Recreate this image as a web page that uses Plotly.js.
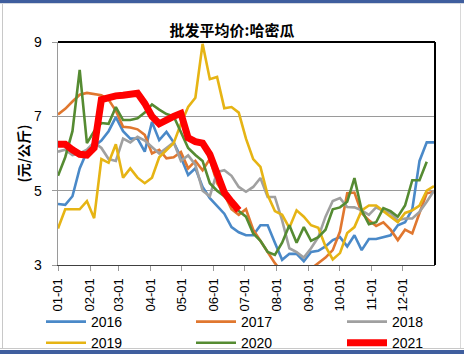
<!DOCTYPE html>
<html>
<head>
<meta charset="utf-8">
<script src="https://cdn.plot.ly/plotly-3.0.1.min.js"></script>
<style>
  html, body { margin: 0; padding: 0; background: #fff; }
  #wrap { position: relative; width: 464px; height: 354px; overflow: hidden; }
  #chart { position: absolute; left: 0; top: 0; width: 464px; height: 354px; }
  .fr { position: absolute; pointer-events: none; }
</style>
</head>
<body>
<div id="wrap">
  <div id="chart"></div>
  <div class="fr" style="left:0;top:0;width:464px;height:3px;background:#3f5e9e;"></div>
  <div class="fr" style="left:0;top:3px;width:464px;height:1px;background:#d4d8e0;"></div>
  <div class="fr" style="left:2px;top:4px;width:1px;height:345px;background:#c8c8c8;"></div>
  <div class="fr" style="left:460px;top:4px;width:1px;height:345px;background:#d8d8d8;"></div>
  <div class="fr" style="left:0;top:348px;width:464px;height:1px;background:#c8c8c8;"></div>
  <div class="fr" style="left:0;top:350px;width:464px;height:4px;background:#3f5e9e;"></div>
</div>
<script>
// weekly observations; week index i -> day of year 7*i
const monthTickDays = [0, 31, 59, 90, 120, 151, 181, 212, 243, 273, 304, 334];
const monthTickLabels = ["01-01","02-01","03-01","04-01","05-01","06-01","07-01","08-01","09-01","10-01","11-01","12-01"];

const s2016 = [4.64,4.62,4.85,5.6,6.05,6.2,6.35,6.6,6.98,6.6,6.4,6.4,6.05,6.85,6.36,6.58,6.3,5.9,5.42,5.6,5.1,4.8,4.6,4.38,4.02,3.88,3.8,3.8,4.07,4.07,3.6,3.14,3.3,3.3,3.1,3.35,3.38,3.5,3.67,3.75,3.5,3.8,3.4,3.7,3.7,3.75,3.8,4.07,4.15,4.5,5.8,6.3,6.3];
const s2017 = [7.05,7.2,7.4,7.58,7.63,7.6,7.57,7.45,7.15,6.72,6.7,6.65,6.5,6.0,6.1,5.87,5.9,6.04,5.6,5.8,5.55,5.85,5.2,4.9,4.5,4.35,4.5,3.95,3.65,3.35,3.05,2.8,2.6,2.6,2.7,2.9,3.05,3.2,3.4,3.9,4.93,4.95,4.4,4.2,4.05,4.15,3.95,3.67,3.95,3.85,4.4,4.93,4.97];
const s2018 = [6.05,6.1,5.96,6.0,6.1,6.3,6.15,5.85,5.8,6.4,6.3,6.45,6.35,6.18,6.0,6.15,6.3,5.8,5.95,5.7,5.0,4.85,5.5,5.55,5.4,5.1,4.97,5.1,5.34,4.83,4.83,4.2,3.45,3.35,3.2,3.45,3.75,4.3,4.72,4.8,4.56,4.55,4.47,4.35,4.55,4.45,4.4,4.2,4.25,4.25,4.43,4.7,5.0];
const s2019 = [3.98,4.5,4.5,4.5,4.72,4.26,5.85,5.75,6.25,5.35,5.6,5.35,5.2,5.35,5.9,6.1,6.28,6.8,7.25,7.5,8.95,8.0,8.06,7.22,7.25,7.1,6.4,5.85,5.64,4.88,4.45,4.35,4.0,4.47,4.3,4.07,4.0,3.5,3.15,3.32,3.86,4.02,4.47,4.6,4.6,4.45,4.3,4.15,4.4,4.47,4.6,5.0,5.12];
const s2020 = [5.4,5.9,6.6,8.25,6.28,6.6,6.82,6.8,7.25,6.9,6.9,6.95,7.1,7.32,7.18,7.06,7.0,6.55,6.15,5.96,5.8,5.2,5.0,4.85,4.65,4.45,4.3,3.85,3.65,3.35,3.27,3.6,4.07,3.6,4.02,3.65,3.75,3.95,4.5,4.55,4.7,5.34,4.47,4.1,4.15,4.53,4.45,4.3,4.6,5.28,5.28,5.78];
const s2021 = [6.25,6.25,6.1,5.98,5.96,6.15,7.45,7.52,7.55,7.57,7.6,7.62,7.35,7.0,6.8,6.92,7.0,7.08,6.42,6.32,6.28,5.98,5.4,4.95,4.7,4.47];

const seriesNames = ["2016","2017","2018","2019","2020","2021"];
const seriesData = [s2016, s2017, s2018, s2019, s2020, s2021];
const colors = ["#4a89c8","#e0772f","#a0a0a0","#e6b414","#558b32","#ff0000"];
const widths = [2.6,2.6,2.6,2.6,2.6,7];
const legendOf = ["legend","legend2","legend3","legend","legend2","legend3"];

const traces = seriesData.map((vals, k) => ({
  type: "scatter",
  mode: "lines",
  name: seriesNames[k],
  legend: legendOf[k],
  x: vals.map((v, i) => 7 * i),
  y: vals,
  line: { color: colors[k], width: widths[k], shape: "linear" },
  hoverinfo: "x+y"
}));

function legendAt(px) {
  return {
    orientation: "v",
    x: (px - 58) / 377, xanchor: "left",
    y: (265 - 306) / 223, yanchor: "top",
    itemwidth: 40,
    font: { size: 14, family: "Liberation Sans, Arial, sans-serif", color: "#000" },
    bgcolor: "rgba(0,0,0,0)",
    tracegroupgap: 0,
    traceorder: "normal"
  };
}

const layout = {
  width: 464, height: 354,
  margin: { l: 58, r: 29, t: 42, b: 89, pad: 0, autoexpand: false },
  paper_bgcolor: "rgba(0,0,0,0)",
  plot_bgcolor: "#ffffff",
  font: { family: "Liberation Sans, Arial, sans-serif", size: 13, color: "#000" },
  title: {
    text: "<b>批发平均价:哈密瓜</b>",
    font: { family: "Noto Sans CJK SC, sans-serif", size: 15, color: "#000" },
    x: 0.5, xanchor: "center", y: 1 - 31 / 354, yanchor: "middle"
  },
  xaxis: {
    range: [0, 365], fixedrange: true,
    tickmode: "array", tickvals: monthTickDays, ticktext: monthTickLabels,
    tickangle: -90,
    tickfont: { size: 13, family: "Liberation Sans, Arial, sans-serif" },
    ticks: "outside", ticklen: 5, tickcolor: "#9a9a9a", tickwidth: 1,
    ticklabelstandoff: 2,
    showgrid: false, zeroline: false,
    showline: true, linecolor: "#404040", linewidth: 1
  },
  yaxis: {
    range: [3, 9], fixedrange: true,
    tickmode: "array", tickvals: [3, 5, 7, 9], ticktext: ["3","5","7","9"],
    tickfont: { size: 14, family: "Liberation Sans, Arial, sans-serif" },
    ticks: "outside", ticklen: 5, tickcolor: "#9a9a9a", tickwidth: 1,
    ticklabelstandoff: 7,
    showgrid: true, gridcolor: "#9a9a9a", gridwidth: 1,
    zeroline: false,
    showline: true, linecolor: "#9a9a9a", linewidth: 1.5,
    title: {
      text: "<b>(元/公斤)</b>",
      font: { family: "Noto Sans CJK SC, sans-serif", size: 14, color: "#000" },
      standoff: 1
    }
  },
  shapes: [
    { type: "line", xref: "paper", yref: "paper", x0: 0, x1: 1, y0: 1, y1: 1, line: { color: "#000", width: 2 }, layer: "above" },
    { type: "line", xref: "paper", yref: "paper", x0: 1, x1: 1, y0: 0, y1: 1, line: { color: "#000", width: 2 }, layer: "above" }
  ],
  showlegend: true,
  legend: legendAt(41),
  legend2: legendAt(191),
  legend3: legendAt(342)
};

Plotly.newPlot("chart", traces, layout, { displayModeBar: false, staticPlot: true });
</script>
</body>
</html>
